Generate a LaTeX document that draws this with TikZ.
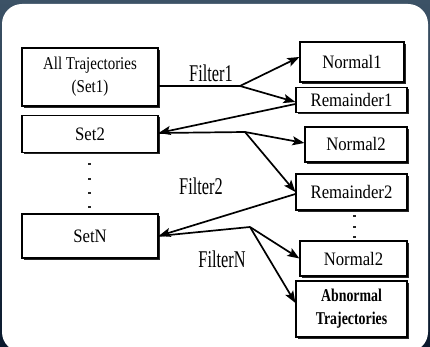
\documentclass[tikz,border=0pt]{standalone}
\usepackage{fontspec}
\setmainfont{Liberation Serif}
\newfontfamily\boxfont[FakeStretch=0.88]{Liberation Serif}
\newfontfamily\boxfontc[FakeStretch=0.83]{Liberation Serif}
\newfontfamily\boxfontb[FakeStretch=0.77]{Liberation Serif}
\newfontfamily\filtfont[FakeStretch=0.68]{Liberation Serif}
\usetikzlibrary{shadows,arrows.meta}
\definecolor{frametop}{RGB}{60,82,102}
\definecolor{framebot}{RGB}{10,25,45}
\begin{document}
\begin{tikzpicture}[x=1pt,y=-1pt,
  bx/.style={draw=black,line width=1.2pt,fill=white,inner sep=0pt,align=center,
    font=\boxfont\fontsize{19}{22}\selectfont,
    drop shadow={shadow xshift=1.5pt,shadow yshift=-2pt,opacity=0.85,fill=black}},
  arr/.style={line width=1.7pt,-{Stealth[length=12pt,width=9pt,inset=2.5pt]}},
  ln/.style={line width=1.7pt},
  flt/.style={font=\filtfont\fontsize{24}{26}\selectfont,inner sep=0pt},
  dotm/.style={fill=black!85,minimum width=3pt,minimum height=2.6pt,inner sep=0pt}]
\useasboundingbox (0,0) rectangle (430,347);
\clip (0,0) rectangle (430,347);
\shade[top color=frametop,bottom color=framebot] (0,0) rectangle (430,347);
\fill[white,rounded corners=20pt] (2,4) rectangle (428,352);

% left column
\node[bx,minimum width=136pt,minimum height=58pt,font=\boxfontc\fontsize{18}{23}\selectfont] (set1) at (90,77) {All Trajectories\\(Set1)};
\node[bx,minimum width=136pt,minimum height=37pt] (set2) at (90,134) {Set2};
\node[bx,minimum width=136pt,minimum height=44pt] (setN) at (90,236) {SetN};
% right column
\node[bx,minimum width=104pt,minimum height=40pt] (n1) at (352,62) {Normal1};
\node[bx,minimum width=111pt,minimum height=25pt] (r1) at (351.5,100) {Remainder1};
\node[bx,minimum width=102pt,minimum height=35pt] (n2) at (356,144.5) {Normal2};
\node[bx,minimum width=111pt,minimum height=36pt] (r2) at (351.5,192) {Remainder2};
\node[bx,minimum width=107pt,minimum height=35pt] (n3) at (353.5,258.5) {Normal2};
\node[bx,minimum width=111pt,minimum height=56pt,font=\boxfontb\bfseries\fontsize{18}{23}\selectfont] (ab) at (351.5,309) {Abnormal\\Trajectories};

% vertical dots
\foreach \yy [count=\i] in {164,179,193,207} \node[dotm] (dl\i) at (89,\yy) {};
\foreach \yy [count=\i] in {216,227,237} \node[dotm] (dr\i) at (354,\yy) {};

% branch points
\coordinate (b1) at (240,86);
\coordinate (b2) at (245,132);
\coordinate (b3) at (250,227);

% Filter 1
\draw[ln] (set1.east |- b1) -- (b1);
\draw[arr] (b1) -- ([yshift=5pt]n1.west);
\draw[arr] (b1) -- ([yshift=-2pt]r1.west);
% Remainder1 -> Set2
\draw[arr] ([yshift=-4pt]r1.west) -- ([yshift=1pt]set2.east);
% Filter 2
\draw[ln] ([yshift=1pt]set2.east) -- (b2);
\draw[arr] (b2) -- ([yshift=1.5pt]n2.west);
\draw[arr] (b2) -- (r2.west);
% Remainder2 -> SetN
\draw[arr] ([yshift=-2pt]r2.west) -- ([yshift=0pt]setN.east);
% Filter N
\draw[ln] (setN.east) -- (b3);
\draw[arr] (b3) -- (n3.west);
\draw[arr] (b3) -- ([yshift=6pt]ab.west);

% labels
\node[flt] (f1) at (211,73) {Filter1};
\node[flt] (f2) at (201,186) {Filter2};
\node[flt] (fN) at (222,259) {FilterN};
\end{tikzpicture}
\end{document}
